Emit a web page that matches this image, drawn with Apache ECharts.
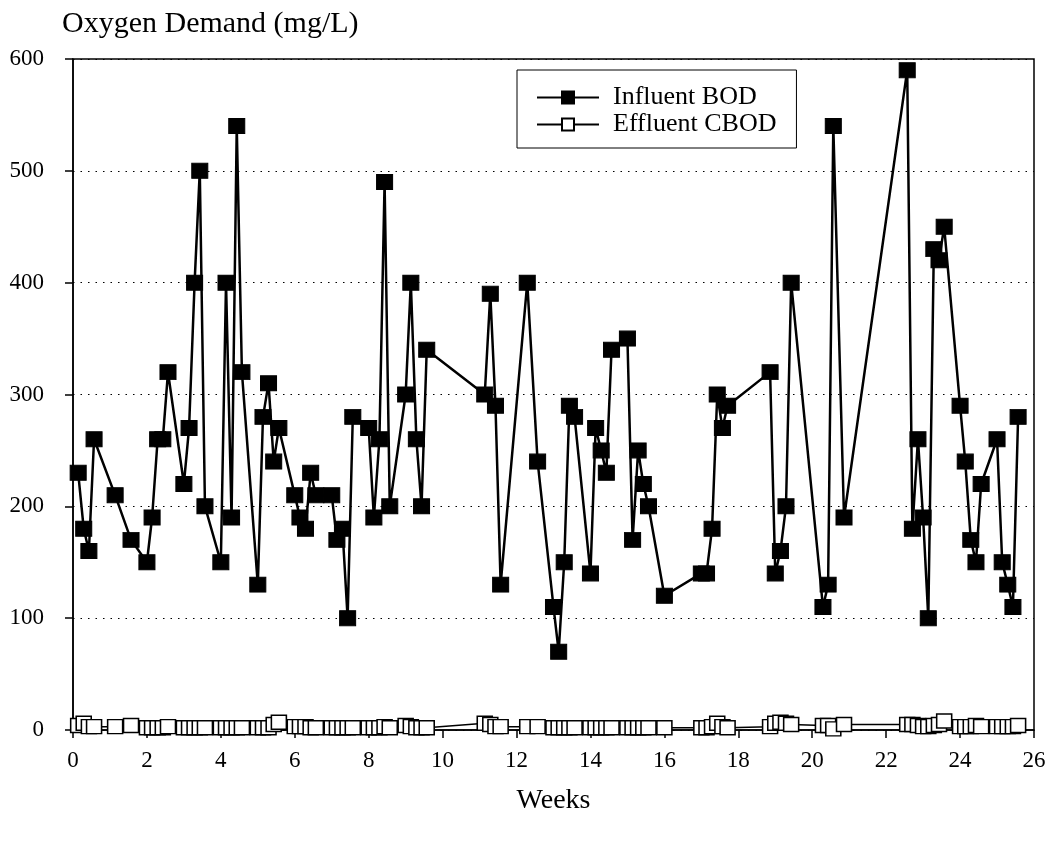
<!DOCTYPE html>
<html>
<head>
<meta charset="utf-8">
<script src="https://cdn.jsdelivr.net/npm/echarts@6/dist/echarts.min.js"></script>
<style>
  html, body { margin: 0; padding: 0; background: #fff; }
  #chart { width: 1050px; height: 841px; }
</style>
</head>
<body>
<div id="chart"></div>
<script>
// Sampling times (weeks)
const weeks = [
  0.14, 0.29, 0.43, 0.57, 1.14, 1.57,
  2.00, 2.14, 2.29, 2.43, 2.57,
  3.00, 3.14, 3.29, 3.43, 3.57,
  4.00, 4.14, 4.29, 4.43, 4.57,
  5.00, 5.14, 5.29, 5.43, 5.57,
  6.00, 6.14, 6.29, 6.43, 6.57,
  7.00, 7.14, 7.29, 7.43, 7.57,
  8.00, 8.14, 8.29, 8.43, 8.57,
  9.00, 9.14, 9.29, 9.43, 9.57,
  11.14, 11.29, 11.43, 11.57,
  12.29, 12.57,
  13.00, 13.14, 13.29, 13.43, 13.57,
  14.00, 14.14, 14.29, 14.43, 14.57,
  15.00, 15.14, 15.29, 15.43, 15.57,
  16.00,
  17.00, 17.14, 17.29, 17.43, 17.57, 17.71,
  18.86, 19.00, 19.14, 19.29, 19.43,
  20.29, 20.43, 20.57, 20.86,
  22.57, 22.71, 22.86, 23.00, 23.14, 23.29, 23.43, 23.57,
  24.00, 24.14, 24.29, 24.43, 24.57,
  25.00, 25.14, 25.29, 25.43, 25.57
];

// Influent BOD (mg/L)
const influentBOD = [
  230, 180, 160, 260, 210, 170,
  150, 190, 260, 260, 320,
  220, 270, 400, 500, 200,
  150, 400, 190, 540, 320,
  130, 280, 310, 240, 270,
  210, 190, 180, 230, 210,
  210, 170, 180, 100, 280,
  270, 190, 260, 490, 200,
  300, 400, 260, 200, 340,
  300, 390, 290, 130,
  400, 240,
  110, 70, 150, 290, 280,
  140, 270, 250, 230, 340,
  350, 170, 250, 220, 200,
  120,
  140, 140, 180, 300, 270, 290,
  320, 140, 160, 200, 400,
  110, 130, 540, 190,
  590, 180, 260, 190, 100, 430, 420, 450,
  290, 240, 170, 150, 220,
  260, 150, 130, 110, 280
];

// Effluent CBOD (mg/L)
const effluentCBOD = [
  4, 6, 3, 3, 3, 4,
  2, 2, 2, 2, 3,
  2, 2, 2, 2, 2,
  2, 2, 2, 2, 2,
  2, 2, 2, 5, 7,
  3, 3, 3, 2, 2,
  2, 2, 2, 2, 2,
  2, 2, 2, 3, 2,
  4, 3, 2, 2, 2,
  6, 5, 3, 3,
  3, 3,
  2, 2, 2, 2, 2,
  2, 2, 2, 2, 2,
  2, 2, 2, 2, 2,
  2,
  2, 2, 3, 6, 3, 2,
  3, 6, 7, 6, 5,
  4, 4, 1, 5,
  5, 5, 4, 3, 3, 4, 5, 8,
  3, 3, 3, 4, 3,
  3, 3, 3, 3, 4
];

const FONT = '"Liberation Serif", "DejaVu Serif", serif';

const chart = echarts.init(document.getElementById('chart'), null, { renderer: 'canvas' });

chart.setOption({
  animation: false,
  backgroundColor: '#fff',
  title: {
    text: 'Oxygen Demand (mg/L)',
    left: 57,
    top: 4,
    textStyle: { fontFamily: FONT, fontSize: 30, fontWeight: 'normal', color: '#000' }
  },
  legend: {
    orient: 'vertical',
    left: 517,
    top: 70,
    padding: [14, 20, 10, 19],
    itemGap: 0,
    itemWidth: 62,
    itemHeight: 15,
    borderColor: '#000',
    borderWidth: 1,
    backgroundColor: '#fff',
    textStyle: { fontFamily: FONT, fontSize: 26, lineHeight: 27, color: '#000', padding: [0, 0, 0, 9] },
    data: ['Influent BOD', 'Effluent CBOD']
  },
  grid: {
    left: 73, right: 16, top: 59, bottom: 111,
    show: true, borderColor: '#000', borderWidth: 1.5, backgroundColor: 'transparent'
  },
  xAxis: {
    type: 'value',
    min: 0, max: 26, interval: 2,
    name: 'Weeks',
    nameLocation: 'middle',
    nameGap: 57,
    nameTextStyle: { fontFamily: FONT, fontSize: 28, color: '#000' },
    axisLine: { show: true, lineStyle: { color: '#000', width: 1.5 } },
    axisTick: { show: true, inside: false, length: 8, lineStyle: { color: '#000', width: 1.5 } },
    axisLabel: { fontFamily: FONT, fontSize: 23, color: '#000', margin: 19 },
    splitLine: { show: false }
  },
  yAxis: {
    type: 'value',
    min: 0, max: 600, interval: 100,
    axisLine: { show: true, lineStyle: { color: '#000', width: 1.5 } },
    axisTick: { show: true, inside: false, length: 8, lineStyle: { color: '#000', width: 1.5 } },
    axisLabel: { fontFamily: FONT, fontSize: 23, color: '#000', margin: 29 },
    splitLine: { show: true, lineStyle: { color: '#000', width: 1.2, type: [1.5, 6] } }
  },
  series: [
    {
      name: 'Influent BOD',
      type: 'line',
      data: weeks.map((w, i) => [w, influentBOD[i]]),
      symbol: 'rect',
      symbolSize: [16, 15],
      showAllSymbol: true,
      lineStyle: { color: '#000', width: 2.5 },
      itemStyle: { color: '#000', borderColor: '#000', borderWidth: 1 },
      z: 2
    },
    {
      name: 'Effluent CBOD',
      type: 'line',
      data: weeks.map((w, i) => [w, effluentCBOD[i]]),
      symbol: 'rect',
      symbolSize: [15, 14],
      showAllSymbol: true,
      lineStyle: { color: '#000', width: 1.5 },
      itemStyle: { color: '#fff', borderColor: '#000', borderWidth: 1.5 },
      z: 3
    }
  ]
});
</script>
</body>
</html>
